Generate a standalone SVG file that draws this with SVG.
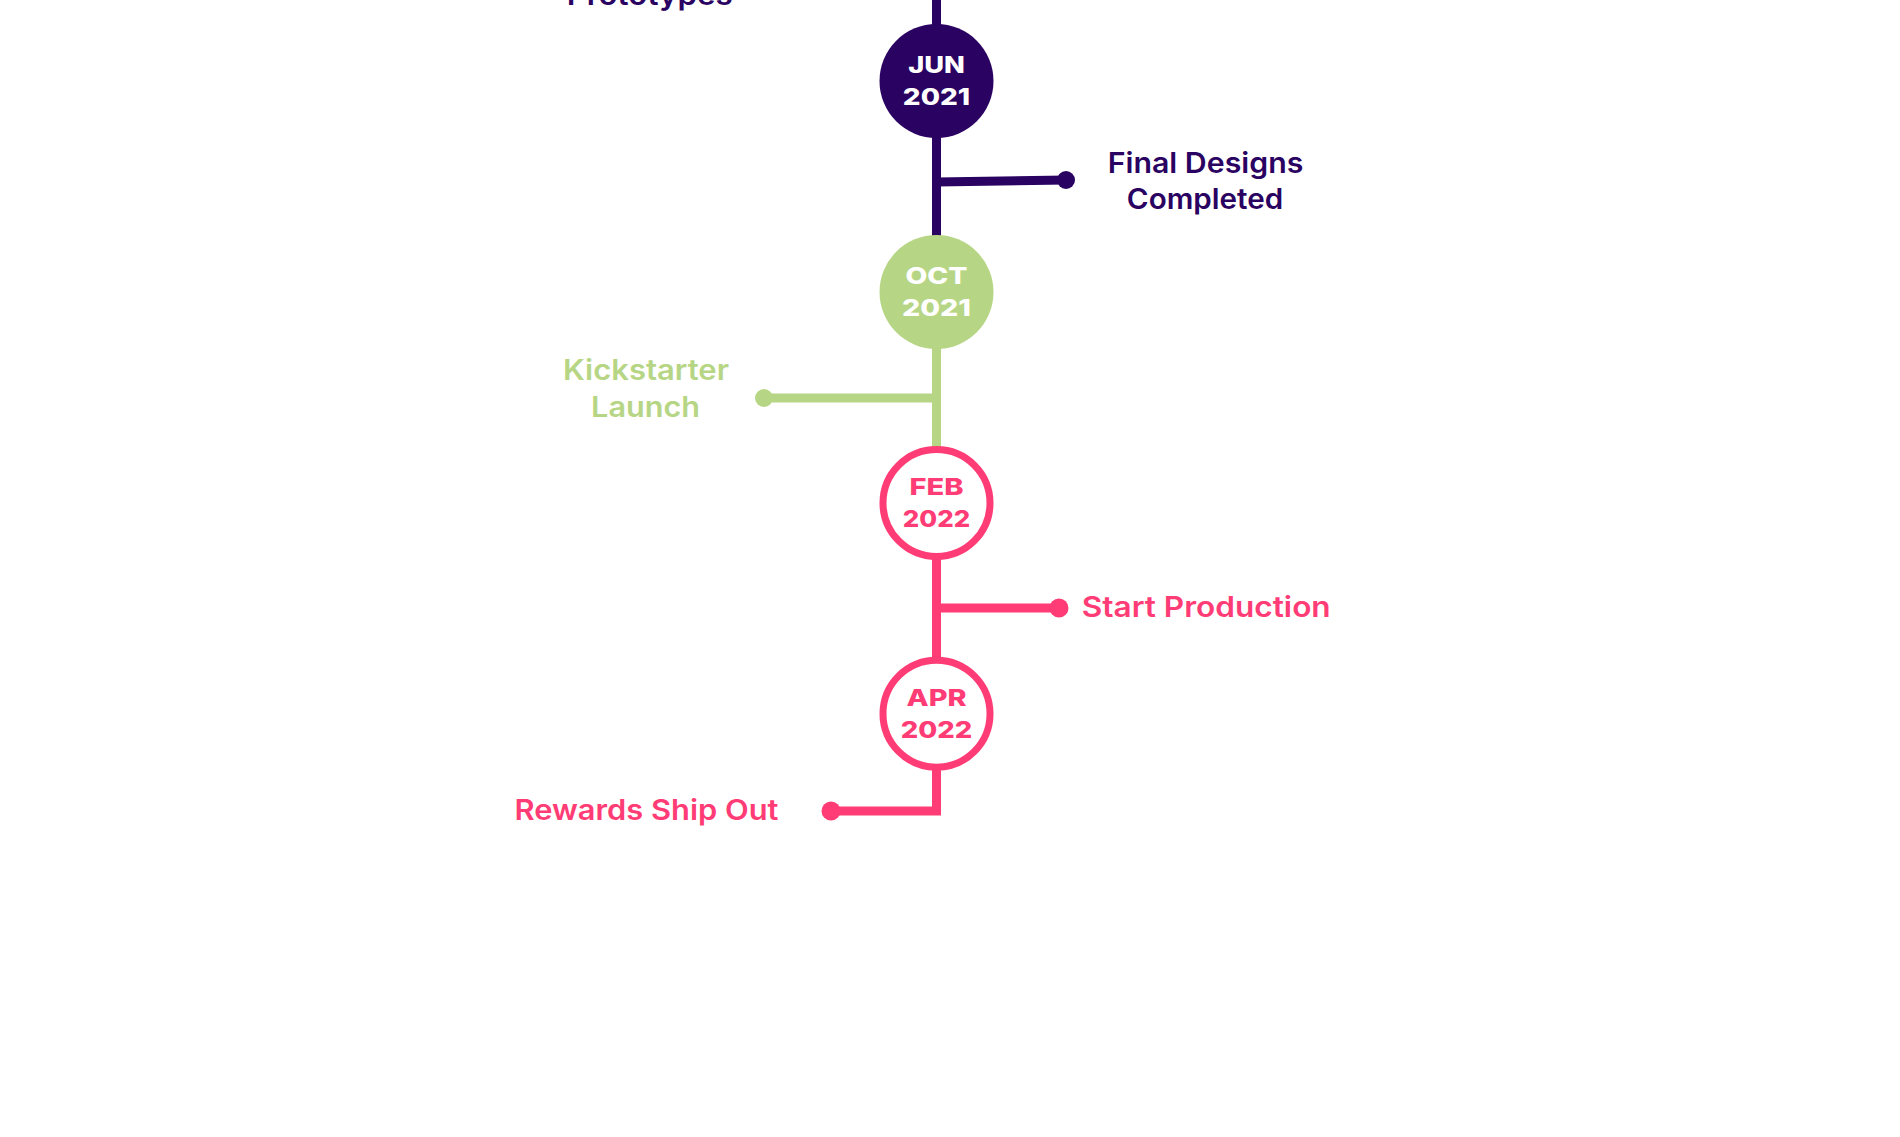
<svg xmlns="http://www.w3.org/2000/svg" width="1900" height="1137" viewBox="0 0 1900 1137">
  <style>
    .lbl { font-family: Inter, "Noto Sans", "Liberation Sans", sans-serif; font-weight: 600; font-size: 28.5px; }
    .date { font-family: Inter, "Noto Sans", "Liberation Sans", sans-serif; font-weight: 800; font-size: 23px; text-anchor: middle; }
    .purple { fill: #2A0262; }
    .green { fill: #B7D685; }
    .pink { fill: #FF3C75; }
    .mid { text-anchor: middle; }
  </style>
  <rect width="1900" height="1137" fill="#ffffff"/>

  <g id="connectors" fill="none" stroke-width="9" stroke-linejoin="miter" stroke-linecap="butt">
    <line x1="936.5" y1="0" x2="936.5" y2="240" stroke="#2A0262"/>
    <line x1="936.5" y1="182" x2="1066" y2="180" stroke="#2A0262"/>
    <circle cx="1066" cy="180" r="9" fill="#2A0262" stroke="none"/>
    <line x1="936.5" y1="340" x2="936.5" y2="450" stroke="#B7D685"/>
    <line x1="936.5" y1="398" x2="764" y2="398" stroke="#B7D685"/>
    <circle cx="764" cy="398" r="9" fill="#B7D685" stroke="none"/>
    <line x1="936.5" y1="550" x2="936.5" y2="660" stroke="#FF3C75"/>
    <line x1="936.5" y1="608" x2="1059" y2="608" stroke="#FF3C75"/>
    <circle cx="1059" cy="608" r="9.5" fill="#FF3C75" stroke="none"/>
    <path d="M936.5 760 V811 H831" stroke="#FF3C75"/>
    <circle cx="831" cy="811" r="9.5" fill="#FF3C75" stroke="none"/>
  </g>

  <g id="node-prototypes">
    <text class="lbl purple mid" x="649.7" y="4.5" textLength="166" lengthAdjust="spacingAndGlyphs">Prototypes</text>
  </g>

  <g id="node-jun2021">
    <circle cx="936.5" cy="81" r="57" fill="#2A0262"/>
    <text class="date" x="936.5" y="73.3" fill="#ffffff" textLength="56.7" lengthAdjust="spacingAndGlyphs">JUN</text>
    <text class="date" x="936.5" y="105" fill="#ffffff" textLength="67.3" lengthAdjust="spacingAndGlyphs">2021</text>
  </g>

  <g id="node-final-designs">
    <text class="lbl purple mid" x="1205.5" y="173.3" textLength="195.6" lengthAdjust="spacingAndGlyphs">Final Designs</text>
    <text class="lbl purple mid" x="1205" y="208.7" textLength="156.3" lengthAdjust="spacingAndGlyphs">Completed</text>
  </g>

  <g id="node-oct2021">
    <circle cx="936.5" cy="292" r="57" fill="#B7D685"/>
    <text class="date" x="936.5" y="284" fill="#ffffff" textLength="62" lengthAdjust="spacingAndGlyphs">OCT</text>
    <text class="date" x="936.5" y="316" fill="#ffffff" textLength="69" lengthAdjust="spacingAndGlyphs">2021</text>
  </g>

  <g id="node-kickstarter">
    <text class="lbl green mid" x="646" y="380" textLength="166" lengthAdjust="spacingAndGlyphs">Kickstarter</text>
    <text class="lbl green mid" x="645.6" y="416.7" textLength="109" lengthAdjust="spacingAndGlyphs">Launch</text>
  </g>

  <g id="node-feb2022">
    <circle cx="936.5" cy="503" r="53.5" fill="#ffffff" stroke="#FF3C75" stroke-width="7"/>
    <text class="date pink" x="936.5" y="495" textLength="54" lengthAdjust="spacingAndGlyphs">FEB</text>
    <text class="date pink" x="936.5" y="526.7" textLength="67.3" lengthAdjust="spacingAndGlyphs">2022</text>
  </g>

  <g id="node-start-production">
    <text class="lbl pink" x="1081.7" y="616.7" textLength="249" lengthAdjust="spacingAndGlyphs">Start Production</text>
  </g>

  <g id="node-apr2022">
    <circle cx="936.5" cy="713.7" r="53.5" fill="#ffffff" stroke="#FF3C75" stroke-width="7"/>
    <text class="date pink" x="936.5" y="705.7" textLength="60" lengthAdjust="spacingAndGlyphs">APR</text>
    <text class="date pink" x="936.5" y="737.7" textLength="71.5" lengthAdjust="spacingAndGlyphs">2022</text>
  </g>

  <g id="node-rewards">
    <text class="lbl pink mid" x="646.5" y="820" textLength="264" lengthAdjust="spacingAndGlyphs">Rewards Ship Out</text>
  </g>
</svg>
